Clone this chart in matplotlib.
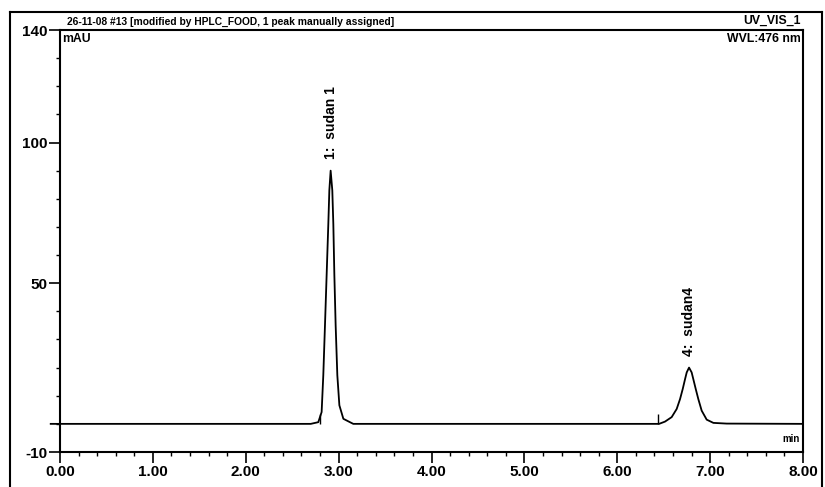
import matplotlib
matplotlib.use("Agg")
import matplotlib.pyplot as plt
from matplotlib.lines import Line2D
from matplotlib.ticker import MultipleLocator, FixedLocator

# ---- data ----
time_min = [-0.10, 0.00, 1.00, 2.00, 2.70, 2.781, 2.817, 2.835, 2.853, 2.871, 2.889,
            2.900, 2.914, 2.932, 2.943, 2.954, 2.968, 2.986, 3.008, 3.051,
            3.122, 3.158, 4.00, 5.00, 6.00, 6.45, 6.514, 6.586, 6.640, 6.676,
            6.705, 6.730, 6.748, 6.773, 6.801, 6.819, 6.845, 6.873, 6.909,
            6.963, 7.035, 7.178, 8.00]
signal_mau = [0.0, 0.0, 0.0, 0.0, 0.0, 0.6, 4.2, 17.3, 35.0, 53.0, 71.0,
              83.0, 90.0, 83.0, 71.0, 53.0, 35.0, 17.3, 6.6, 1.8,
              0.6, 0.0, 0.0, 0.0, 0.0, 0.0, 0.8, 2.4, 5.3, 8.8,
              12.4, 15.9, 18.3, 20.0, 18.3, 15.9, 12.4, 8.8, 4.7,
              1.5, 0.35, 0.1, 0.0]

peak_times = [2.914, 6.773]
peak_labels = ["1:  sudan 1", "4:  sudan4"]
peak_label_y = [94, 24]
marker_times = [2.80, 6.44]

x_ticks = [0, 1, 2, 3, 4, 5, 6, 7, 8]
x_tick_labels = ["0.00", "1.00", "2.00", "3.00", "4.00", "5.00", "6.00", "7.00", "8.00"]
y_ticks = [-10, 50, 100, 140]
y_tick_labels = ["-10", "50", "100", "140"]

title_left = "26-11-08 #13 [modified by HPLC_FOOD, 1 peak manually assigned]"
title_right = "UV_VIS_1"
y_unit = "mAU"
wavelength = "WVL:476 nm"
x_unit = "min"

plt.rcParams['font.family'] = ['Liberation Sans', 'DejaVu Sans']
plt.rcParams['font.weight'] = 'bold'

W, H = 825, 487
fig = plt.figure(figsize=(W / 100, H / 100), dpi=100)
ax = fig.add_axes([60 / W, 1 - 452 / H, (803 - 60) / W, (452 - 30) / H])

ax.plot(time_min, signal_mau, color='black', lw=1.3, clip_on=False)
ax.vlines(marker_times, 0, 3.5, color='black', lw=1.0)

ax.set_xlim(0, 8)
ax.set_ylim(-10, 140)

ax.xaxis.set_major_locator(FixedLocator(x_ticks))
ax.set_xticklabels(x_tick_labels, fontsize=11, fontweight='bold')
ax.xaxis.set_minor_locator(MultipleLocator(0.2))
ax.yaxis.set_major_locator(FixedLocator(y_ticks))
ax.set_yticklabels(y_tick_labels, fontsize=11, fontweight='bold')
ax.yaxis.set_minor_locator(MultipleLocator(10))

ax.tick_params(axis='both', which='major', direction='out', length=8, width=1.2, pad=1)
ax.tick_params(axis='both', which='minor', direction='out', length=3, width=1.0)
for s in ax.spines.values():
    s.set_linewidth(1.5)

for t, lab, yl in zip(peak_times, peak_labels, peak_label_y):
    ax.text(t, yl, lab, rotation=90, ha='center', va='bottom', fontsize=10, fontweight='bold')

ax.text(0.08, 141, title_left, ha='left', va='bottom', fontsize=7.4, fontweight='bold')
ax.text(7.98, 141, title_right, ha='right', va='bottom', fontsize=8.8, fontweight='bold')
ax.text(0.02, 139, y_unit, ha='left', va='top', fontsize=8.8, fontweight='bold')
ax.text(7.98, 139, wavelength, ha='right', va='top', fontsize=8.8, fontweight='bold')
ax.text(7.97, -5.5, x_unit, ha='right', va='center', fontsize=7, fontweight='bold')

# outer frame of the printout
fig.add_artist(Line2D([10 / W, 10 / W], [0, 1 - 12 / H], color='black', lw=1.5))
fig.add_artist(Line2D([10 / W, 822 / W], [1 - 12 / H, 1 - 12 / H], color='black', lw=1.5))
fig.add_artist(Line2D([822 / W, 822 / W], [0, 1 - 12 / H], color='black', lw=1.5))

fig.savefig("out.png", dpi=100)
